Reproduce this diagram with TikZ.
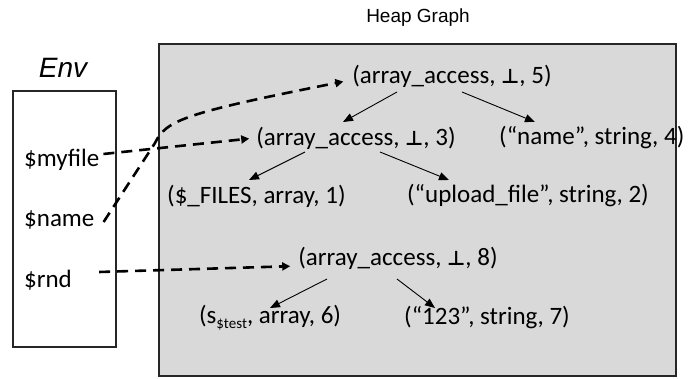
\documentclass[tikz,border=0pt]{standalone}
\usepackage{fontspec}
\setmainfont{Carlito}
\newfontfamily\titlefont{Liberation Sans}
\newfontfamily\symfont{DejaVu Sans}
\usetikzlibrary{arrows.meta,calc}
\definecolor{heapfill}{HTML}{D9D9D9}
\newcommand{\bottomsym}{{\symfont\fontsize{20}{24}\selectfont\textbf{⊥}}}
\tikzset{
  frame/.style={draw=black!85, line width=1.3pt},
  tuple/.style={font=\fontsize{25}{30}\selectfont, inner sep=1pt},
  varname/.style={font=\fontsize{25}{30}\selectfont, inner sep=1pt, anchor=west},
  title/.style={font=\titlefont\fontsize{19}{22}\selectfont},
  edge/.style={-{Triangle[length=10pt,width=8pt]}, line width=0.9pt},
  binding/.style={-{Triangle[length=8pt,width=8pt]}, line width=2.6pt, dash pattern=on 11pt off 7pt}
}
\begin{document}
\begin{tikzpicture}[x=1pt,y=-1pt]
\useasboundingbox (0,0) rectangle (690,379);

% the two frames
\draw[frame, fill=heapfill] (159,44) rectangle (676,376);
\draw[frame, fill=white] (13,91) rectangle (116,347);

% titles
\node[title] (heaptitle) at (418,18) {Heap Graph};
\node[title, font=\titlefont\itshape\fontsize{28}{32}\selectfont] (envtitle) at (63,68) {Env};

% environment variables
\node[varname] (myfile) at (23,160) {\$myfile};
\node[varname] (name)   at (23,220) {\$name};
\node[varname] (rnd)    at (23,280) {\$rnd};

% heap nodes
\node[tuple] (n5) at (452,76)  {(array\_access, \bottomsym, 5)};
\node[tuple] (n3) at (356,138) {(array\_access, \bottomsym, 3)};
\node[tuple, anchor=west] (n4) at (498,138) {(“name”, string, 4)};
\node[tuple, anchor=west] (n1) at (166,196) {(\$\_FILES, array, 1)};
\node[tuple] (n2) at (528,196) {(“upload\_file”, string, 2)};
\node[tuple] (n8) at (398,258) {(array\_access, \bottomsym, 8)};
\node[tuple] (n6) at (270,318) {(s\raisebox{-0.45ex}{\fontsize{15}{18}\selectfont\$test}, array, 6)};
\node[tuple] (n7) at (487,318) {(“123”, string, 7)};

% heap edges
\draw[edge] ($(n5.center)+(-55,16)$) -- ($(n3.center)+(-13,-16)$);
\draw[edge] ($(n5.center)+(10,16)$)  -- ($(n4.west)+(37,-16)$);
\draw[edge] ($(n3.center)+(-51,14)$) -- ($(n1.west)+(83,-16)$);
\draw[edge] ($(n3.center)+(24,14)$)  -- ($(n2.center)+(-79,-16)$);
\draw[edge] ($(n8.center)+(-71,21)$) -- ($(n6.center)+(0,-10)$);
\draw[edge] ($(n8.center)+(-1,21)$)  -- ($(n7.center)+(-52,-10)$);

% bindings from the environment into the heap
\draw[binding, shorten >=6pt] ($(myfile.east)+(3,-6)$) -- (n3.west);
\draw[binding, shorten >=8pt] ($(name.east)+(8,2)$) -- (155,143)
  .. controls (166,120) and (185,113) .. ($(n5.west)+(0,4)$);
\draw[binding, shorten >=7pt] ($(rnd.east)+(26,-8)$) -- ($(n8.west)+(0,8)$);
\end{tikzpicture}
\end{document}
